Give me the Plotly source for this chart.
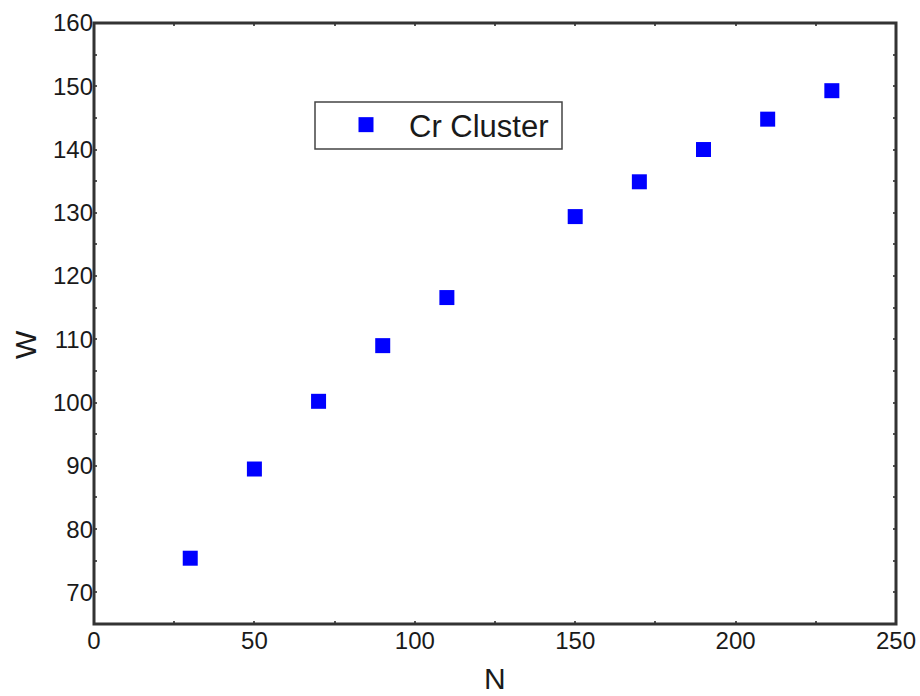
import plotly.graph_objects as go

# Cluster size N versus W for the Cr cluster series
n_values = [30, 50, 70, 90, 110, 150, 170, 190, 210, 230]
w_values = [75.4, 89.5, 100.2, 109.0, 116.6, 129.4, 134.9, 140.0, 144.8, 149.3]
series_name = "Cr Cluster"

x_tick_vals = list(range(0, 251, 25))
x_tick_text = [str(v) if v % 50 == 0 else "" for v in x_tick_vals]
y_tick_vals = list(range(70, 161, 5))
y_tick_text = [str(v) if v % 10 == 0 else "" for v in y_tick_vals]

FONT = "Liberation Sans, Arial, sans-serif"
W_PX, H_PX = 920, 696
L, R, T, B = 94, 24, 23, 72
PW, PH = W_PX - L - R, H_PX - T - B


def px_x(px):
    return (px - L) / PW


def px_y(py):
    return 1 - (py - T) / PH


fig = go.Figure()
fig.add_trace(go.Scatter(
    x=n_values, y=w_values, mode="markers", name=series_name,
    marker=dict(symbol="square", size=15, color="#0000FF", line=dict(width=0)),
))

axis_common = dict(
    showgrid=False, zeroline=False, showline=False, automargin=False,
    ticks="inside", ticklen=3, tickwidth=1.5, tickcolor="#555555",
    mirror="ticks",
    tickfont=dict(family=FONT, size=24, color="#1a1a1a"),
)

fig.update_layout(
    width=W_PX, height=H_PX,
    margin=dict(l=L, r=R, t=T, b=B, autoexpand=False),
    paper_bgcolor="white", plot_bgcolor="white",
    xaxis=dict(range=[0, 250], tickmode="array", tickvals=x_tick_vals,
               ticktext=x_tick_text, **axis_common),
    yaxis=dict(range=[65, 160], tickmode="array", tickvals=y_tick_vals,
               ticktext=y_tick_text, **axis_common),
    showlegend=True,
    legend=dict(
        x=px_x(323), y=px_y(125),
        xanchor="left", yanchor="middle",
        borderwidth=0, bgcolor="rgba(0,0,0,0)",
        font=dict(family=FONT, size=31, color="#1a1a1a"),
        itemwidth=76,
    ),
    shapes=[
        # legend frame
        dict(type="rect", xref="paper", yref="paper",
             x0=px_x(315), x1=px_x(562), y0=px_y(149), y1=px_y(102),
             line=dict(color="#444444", width=1.5), fillcolor="white", layer="below"),
        # plot frame
        dict(type="rect", xref="paper", yref="paper", x0=0, x1=1, y0=0, y1=1,
             line=dict(color="#333333", width=3), layer="above"),
    ],
    annotations=[
        dict(text="N", x=0.5, y=px_y(678), xref="paper", yref="paper",
             showarrow=False, yanchor="middle", xanchor="center",
             font=dict(family=FONT, size=30, color="#1a1a1a")),
        dict(text="W", x=px_x(25), y=px_y(345), xref="paper", yref="paper",
             showarrow=False, textangle=-90, xanchor="center", yanchor="middle",
             font=dict(family=FONT, size=30, color="#1a1a1a")),
    ],
)

fig.write_html("out.html")
